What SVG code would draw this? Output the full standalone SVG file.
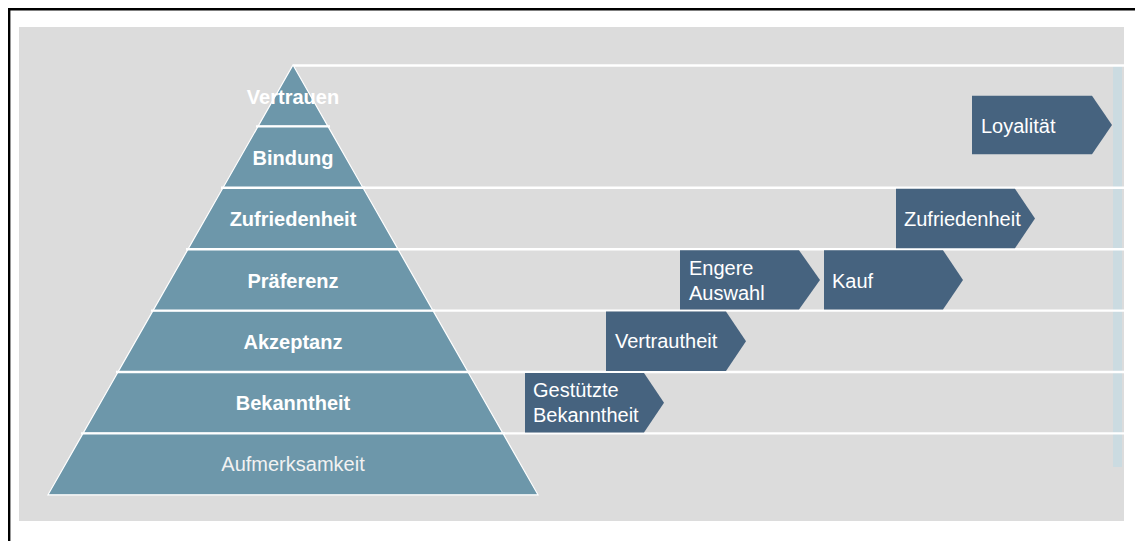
<svg xmlns="http://www.w3.org/2000/svg" width="1135" height="541" viewBox="0 0 1135 541">
  <style>
    .band { fill: #6d97aa; stroke: #ffffff; stroke-width: 1.2; }
    .sep { stroke: #ffffff; stroke-width: 2.4; fill: none; }
    .lvl { font-family: "Liberation Sans", Arial, sans-serif; font-size: 20px; font-weight: bold; fill: #ffffff; text-anchor: middle; }
    .lvl-n { font-family: "Liberation Sans", Arial, sans-serif; font-size: 20px; fill: #f2f2f2; text-anchor: middle; }
    .step { fill: #46637f; }
    .step-t { font-family: "Liberation Sans", Arial, sans-serif; font-size: 20px; fill: #ffffff; }
  </style>

  <!-- frame and backdrop -->
  <rect x="0" y="0" width="1135" height="541" fill="#ffffff"/>
  <path d="M9.2 541 V9.2 H1135" fill="none" stroke="#000000" stroke-width="2.4"/>
  <rect x="19" y="27" width="1105" height="494" fill="#dcdcdc"/>
  <rect x="1113" y="66" width="9" height="401" fill="#cbdbe1"/>

  <!-- horizontal band lines to the right of the pyramid -->
  <g id="connectors">
    <line class="sep" x1="293" y1="65.5" x2="1124" y2="65.5"/>
    <line class="sep" x1="356" y1="187.8" x2="1124" y2="187.8"/>
    <line class="sep" x1="391" y1="249.2" x2="1124" y2="249.2"/>
    <line class="sep" x1="426" y1="310.6" x2="1124" y2="310.6"/>
    <line class="sep" x1="461" y1="372" x2="1124" y2="372"/>
    <line class="sep" x1="496" y1="433.4" x2="1124" y2="433.4"/>
  </g>

  <!-- pyramid levels, top to bottom -->
  <g id="level-vertrauen">
    <polygon class="band" points="293,65 328,126.4 258,126.4"/>
    <text class="lvl" x="293" y="104">Vertrauen</text>
  </g>
  <g id="level-bindung">
    <polygon class="band" points="258,126.4 328,126.4 363,187.8 223,187.8"/>
    <text class="lvl" x="293" y="165">Bindung</text>
  </g>
  <g id="level-zufriedenheit">
    <polygon class="band" points="223,187.8 363,187.8 398,249.2 188,249.2"/>
    <text class="lvl" x="293" y="226">Zufriedenheit</text>
  </g>
  <g id="level-praeferenz">
    <polygon class="band" points="188,249.2 398,249.2 433,310.6 153,310.6"/>
    <text class="lvl" x="293" y="287.5">Präferenz</text>
  </g>
  <g id="level-akzeptanz">
    <polygon class="band" points="153,310.6 433,310.6 468,372 118,372"/>
    <text class="lvl" x="293" y="349">Akzeptanz</text>
  </g>
  <g id="level-bekanntheit">
    <polygon class="band" points="118,372 468,372 503,433.4 83,433.4"/>
    <text class="lvl" x="293" y="410">Bekanntheit</text>
  </g>
  <g id="level-aufmerksamkeit">
    <polygon class="band" points="83,433.4 503,433.4 538,494.8 48,494.8"/>
    <text class="lvl-n" x="293" y="471">Aufmerksamkeit</text>
  </g>
  <g id="pyramid-separators">
    <line class="sep" x1="256" y1="126.4" x2="330" y2="126.4"/>
    <line class="sep" x1="221" y1="187.8" x2="365" y2="187.8"/>
    <line class="sep" x1="186" y1="249.2" x2="400" y2="249.2"/>
    <line class="sep" x1="151" y1="310.6" x2="435" y2="310.6"/>
    <line class="sep" x1="116" y1="372" x2="470" y2="372"/>
    <line class="sep" x1="81" y1="433.4" x2="505" y2="433.4"/>
  </g>

  <!-- purchase-funnel steps -->
  <g id="step-gestuetzte-bekanntheit">
    <polygon class="step" points="525,373 644,373 664,402.7 644,432.4 525,432.4"/>
    <text class="step-t" x="533" y="397">Gestützte</text>
    <text class="step-t" x="533" y="422">Bekanntheit</text>
  </g>
  <g id="step-vertrautheit">
    <polygon class="step" points="606,311.6 726,311.6 746,341.3 726,371 606,371"/>
    <text class="step-t" x="615" y="348">Vertrautheit</text>
  </g>
  <g id="step-engere-auswahl">
    <polygon class="step" points="680,250.2 799,250.2 820,279.9 799,309.6 680,309.6"/>
    <text class="step-t" x="689" y="275">Engere</text>
    <text class="step-t" x="689" y="300">Auswahl</text>
  </g>
  <g id="step-kauf">
    <polygon class="step" points="824,250.2 943,250.2 963,279.9 943,309.6 824,309.6"/>
    <text class="step-t" x="832" y="288">Kauf</text>
  </g>
  <g id="step-zufriedenheit">
    <polygon class="step" points="896,188.8 1015,188.8 1035,218.5 1015,248.2 896,248.2"/>
    <text class="step-t" x="904" y="225.5">Zufriedenheit</text>
  </g>
  <g id="step-loyalitaet">
    <polygon class="step" points="972,95.7 1092,95.7 1112,125 1092,154.3 972,154.3"/>
    <text class="step-t" x="981" y="132.5">Loyalität</text>
  </g>
</svg>
